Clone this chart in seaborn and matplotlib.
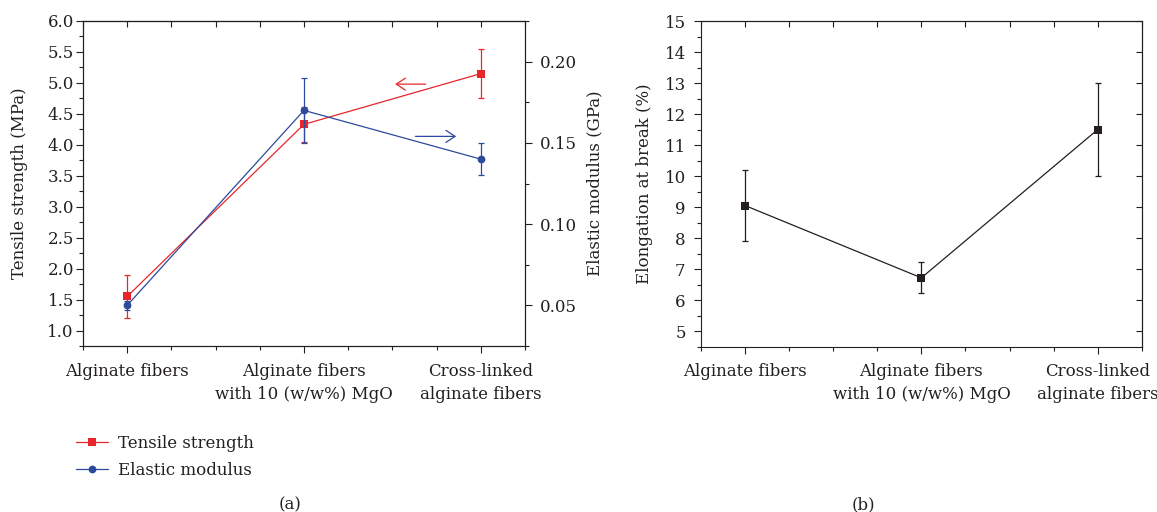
import numpy as np
import pandas as pd
import matplotlib
matplotlib.use("Agg")
import matplotlib.pyplot as plt
import seaborn as sns
from matplotlib.lines import Line2D
from matplotlib.ticker import MultipleLocator, NullFormatter

sns.set_theme(style="ticks")
plt.rcParams['font.family'] = ['DejaVu Serif']
plt.rcParams['font.size'] = 12
INK = '#231f20'
RED = '#e8262a'
BLUE = '#2c4b9c'
FS = 12

# --- data ---
samples = ["Alginate fibers",
           "Alginate fibers\nwith 10 (w/w%) MgO",
           "Cross-linked\nalginate fibers"]
tensile = [1.55, 4.33, 5.15]          # MPa
tensile_err = [0.35, 0.28, 0.40]
modulus = [0.050, 0.170, 0.140]       # GPa
modulus_err = [0.003, 0.020, 0.010]
elongation = [9.05, 6.72, 11.5]       # %
elongation_err = [1.15, 0.50, 1.50]

df = pd.DataFrame({'pos': np.arange(len(samples)), 'tensile': tensile,
                   'modulus': modulus, 'elong': elongation})

fig = plt.figure(figsize=(11.57, 5.12), dpi=100)
ax1 = fig.add_axes([0.0717, 0.3242, 0.3820, 0.6348])
ax3 = fig.add_axes([0.6059, 0.3229, 0.3809, 0.6360])


def style_x(ax):
    ax.set_xlim(-0.25, 2.25)
    ax.set_xticks(df['pos'], samples)
    for lab in ax.get_xticklabels():
        lab.set_linespacing(1.45)
    ax.xaxis.set_minor_locator(MultipleLocator(0.25))
    ax.tick_params(axis='x', which='major', direction='out', length=5, width=0.8,
                   pad=7, colors=INK, labelsize=FS)
    ax.tick_params(axis='x', which='minor', direction='out', length=3, width=0.8, colors=INK)
    top = ax.secondary_xaxis('top')
    top.set_xticks(np.arange(-0.25, 2.26, 0.25))
    top.xaxis.set_major_formatter(NullFormatter())
    top.tick_params(direction='in', length=4, width=0.8, colors=INK)
    for sp in ax.spines.values():
        sp.set_linewidth(0.8)
        sp.set_color(INK)
    top.spines['top'].set_linewidth(0.8)
    top.spines['top'].set_color(INK)
    ax.set_xlabel('')


# --- (a) tensile strength + elastic modulus ---
ax2 = ax1.twinx()
ax1.errorbar(df['pos'], tensile, yerr=tensile_err, fmt='none', ecolor=RED,
             elinewidth=0.9, capsize=2.5, capthick=0.9)
sns.lineplot(data=df, x='pos', y='tensile', ax=ax1, color=RED, marker='s',
             markersize=5.3, markeredgewidth=0, linewidth=0.9)
ax2.errorbar(df['pos'], modulus, yerr=modulus_err, fmt='none', ecolor=BLUE,
             elinewidth=0.9, capsize=2.5, capthick=0.9)
sns.lineplot(data=df, x='pos', y='modulus', ax=ax2, color=BLUE, marker='o',
             markersize=5.6, markeredgewidth=0, linewidth=0.9)

style_x(ax1)
ax1.set_ylim(0.75, 6.0)
ax1.yaxis.set_minor_locator(MultipleLocator(0.25))
ax1.set_yticks(np.arange(1.0, 6.01, 0.5))
ax1.set_yticklabels([f"{v:.1f}" for v in np.arange(1.0, 6.01, 0.5)])
ax1.tick_params(axis='y', which='major', direction='out', length=5, width=0.8,
                pad=1.5, colors=INK, labelsize=FS)
ax1.tick_params(axis='y', which='minor', direction='out', length=3, width=0.8, colors=INK)
ax1.set_ylabel("Tensile strength (MPa)", color=INK, fontsize=FS)
ax1.yaxis.set_label_coords(-0.1244, 0.5)

ax2.set_ylim(0.025, 0.225)
ax2.set_yticks([0.05, 0.10, 0.15, 0.20])
ax2.set_yticklabels(["0.05", "0.10", "0.15", "0.20"])
ax2.yaxis.set_minor_locator(MultipleLocator(0.025))
ax2.tick_params(axis='y', which='major', direction='out', length=5, width=0.8,
                pad=6, colors=INK, labelsize=FS)
ax2.tick_params(axis='y', which='minor', direction='out', length=3, width=0.8, colors=INK)
ax2.set_ylabel("Elastic modulus (GPa)", color=INK, fontsize=FS)
ax2.yaxis.set_label_coords(1.140, 0.5)
for sp in ax2.spines.values():
    sp.set_linewidth(0.8)
    sp.set_color(INK)

# direction arrows
ax1.annotate('', xy=(1.50, 4.98), xytext=(1.705, 4.98),
             arrowprops=dict(arrowstyle='->,head_length=0.55,head_width=0.36',
                             color=RED, lw=0.9))
ax2.annotate('', xy=(1.877, 0.154), xytext=(1.615, 0.154),
             arrowprops=dict(arrowstyle='->,head_length=0.55,head_width=0.36',
                             color=BLUE, lw=0.9))

handles = [Line2D([], [], color=RED, marker='s', markersize=5.3, markeredgewidth=0, lw=0.9),
           Line2D([], [], color=BLUE, marker='o', markersize=5.6, markeredgewidth=0, lw=0.9)]
fig.legend(handles, ["Tensile strength", "Elastic modulus"], loc='upper left',
           bbox_to_anchor=(0.0657, 0.150), bbox_transform=fig.transFigure,
           frameon=False, handlelength=1.9, handletextpad=0.6, labelspacing=0.6,
           borderaxespad=0, borderpad=0, fontsize=FS, labelcolor=INK)

# --- (b) elongation at break ---
ax3.errorbar(df['pos'], elongation, yerr=elongation_err, fmt='none', ecolor=INK,
             elinewidth=0.9, capsize=2.5, capthick=0.9)
sns.lineplot(data=df, x='pos', y='elong', ax=ax3, color=INK, marker='s',
             markersize=5.5, markeredgewidth=0, linewidth=0.9)
style_x(ax3)
ax3.set_ylim(4.5, 15)
ax3.set_yticks(np.arange(5, 16, 1))
ax3.yaxis.set_minor_locator(MultipleLocator(0.5))
ax3.tick_params(axis='y', which='major', direction='out', length=5, width=0.8,
                pad=6, colors=INK, labelsize=FS)
ax3.tick_params(axis='y', which='minor', direction='out', length=3, width=0.8, colors=INK)
right = ax3.secondary_yaxis('right')
right.set_yticks(np.arange(5, 16, 1))
right.yaxis.set_major_formatter(NullFormatter())
right.tick_params(direction='in', length=4, width=0.8, colors=INK)
right.spines['right'].set_linewidth(0.8)
right.spines['right'].set_color(INK)
ax3.set_ylabel("Elongation at break (%)", color=INK, fontsize=FS)
ax3.yaxis.set_label_coords(-0.109, 0.5)

fig.text(290 / 1157, 1 - 505 / 512, "(a)", ha='center', va='center', color=INK, fontsize=FS)
fig.text(863 / 1157, 1 - 505 / 512, "(b)", ha='center', va='center', color=INK, fontsize=FS)

fig.savefig("out.png", dpi=100)
